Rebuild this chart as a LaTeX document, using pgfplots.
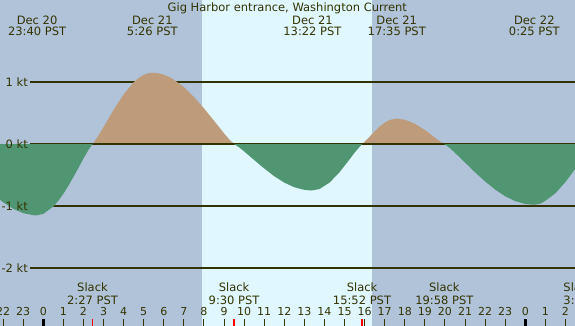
\documentclass[border=0pt]{standalone}
\usepackage{pgfplots}
\usepackage{pgfplotstable}
\pgfplotsset{compat=1.18}
\usepackage{fontspec}
\setmainfont{DejaVu Sans}
\definecolor{night}{RGB}{176,195,217}
\definecolor{day}{RGB}{224,247,255}
\definecolor{flood}{RGB}{190,155,122}
\definecolor{ebb}{RGB}{80,150,115}
\definecolor{ink}{RGB}{51,51,0}
\newcommand{\lab}{\fontsize{11.5}{13}\selectfont}
\newcommand{\tlab}{\fontsize{11}{13}\selectfont}

% ebb before 2:27
\pgfplotstableread{
x y
-2.3 0
-2.3 -0.861
-2.0 -0.940
-1.5 -1.044
-1.0 -1.115
-0.5 -1.148
-0.33 -1.150
0.0 -1.127
0.5 -1.008
0.75 -0.915
1.0 -0.802
1.25 -0.673
1.5 -0.532
1.75 -0.385
2.0 -0.235
2.25 -0.094
2.45 0
}\segA
% flood 2:27 - 9:30
\pgfplotstableread{
x y
2.45 0
2.5 0.018
2.75 0.137
3.0 0.272
3.5 0.550
4.0 0.800
4.5 0.996
4.75 1.066
5.0 1.116
5.25 1.144
5.43 1.150
5.7 1.143
6.0 1.118
6.25 1.085
6.5 1.039
7.0 0.918
7.5 0.760
8.0 0.575
8.5 0.375
9.0 0.172
9.25 0.078
9.5 0
}\segB
% ebb 9:30 - 15:52
\pgfplotstableread{
x y
9.5 0
9.75 -0.054
10.0 -0.119
10.5 -0.258
11.0 -0.394
11.5 -0.519
12.0 -0.622
12.5 -0.697
13.0 -0.740
13.37 -0.750
13.75 -0.726
14.25 -0.623
14.75 -0.455
15.25 -0.247
15.5 -0.139
15.87 0
}\segC
% flood 15:52 - 19:58
\pgfplotstableread{
x y
15.87 0
16.0 0.036
16.25 0.119
16.5 0.205
16.75 0.282
17.0 0.345
17.25 0.389
17.58 0.410
18.0 0.392
18.5 0.328
19.0 0.226
19.5 0.104
19.75 0.044
19.97 0
}\segD
% ebb after 19:58
\pgfplotstableread{
x y
19.97 0
20.25 -0.068
20.5 -0.142
21.0 -0.299
21.5 -0.457
22.0 -0.604
22.5 -0.735
23.0 -0.843
23.5 -0.921
24.0 -0.968
24.42 -0.980
24.75 -0.962
25.0 -0.915
25.5 -0.795
26.0 -0.612
26.5 -0.395
26.6 -0.350
26.6 0
}\segE

\begin{document}
\begin{tikzpicture}[x=1pt,y=1pt]
\path[use as bounding box] (0,0) rectangle (575,326);
\clip (0,0) rectangle (575,326);
\begin{axis}[
  at={(0,0)}, anchor=south west,
  width=575pt, height=326pt, scale only axis,
  xmin=-2.156, xmax=26.475, ymin=-2.935, ymax=2.323,
  axis background/.style={fill=night},
  axis line style={draw=none},
  ytick=\empty,
  xtick={-2,-1,0,1,2,3,4,5,6,7,8,9,10,11,12,13,14,15,16,17,18,19,20,21,22,23,24,25,26},
  xticklabels={22,23,0,1,2,3,4,5,6,7,8,9,10,11,12,13,14,15,16,17,18,19,20,21,22,23,0,1,2},
  xtick pos=bottom,
  tick align=inside,
  major tick length=7.3pt,
  xtick style={draw=ink, line width=1pt},
  xticklabel style={anchor=base, yshift=10.3pt, font=\tlab, text=ink, inner sep=0pt},
  extra x ticks={0,24},
  extra x tick labels={},
  extra x tick style={xtick style={draw=black, line width=3.3pt}},
  axis on top,
  clip=true,
]
% daylight band
\addplot[fill=day, draw=none] coordinates {(7.9,-3) (7.9,2.4) (16.36,2.4) (16.36,-3)};
% reference lines
\addplot[ink, line width=1.3pt] coordinates {(-0.663,1) (27,1)};
\addplot[ink, line width=1.3pt] coordinates {(-0.663,0) (27,0)};
\addplot[ink, line width=1.3pt] coordinates {(-0.663,-1) (27,-1)};
\addplot[ink, line width=1.3pt] coordinates {(-0.663,-2) (27,-2)};
% current curve
\addplot[fill=ebb, draw=none] table {\segA};
\addplot[fill=flood, draw=none] table {\segB};
\addplot[fill=ebb, draw=none] table {\segC};
\addplot[fill=flood, draw=none] table {\segD};
\addplot[fill=ebb, draw=none] table {\segE};
\addplot[ink, line width=1.3pt] coordinates {(2.45,0) (9.5,0)};
\addplot[ink, line width=1.3pt] coordinates {(15.87,0) (19.97,0)};
% slack ticks
\addplot[red, line width=1.3pt] coordinates {(2.45,-2.95) (2.45,-2.817)};
\addplot[red, line width=1.3pt] coordinates {(9.5,-2.95) (9.5,-2.817)};
\addplot[red, line width=1.3pt] coordinates {(15.87,-2.95) (15.87,-2.817)};
\addplot[red, line width=1.3pt] coordinates {(19.97,-2.95) (19.97,-2.817)};
% speed labels
\node[anchor=base east, text=ink, font=\lab, inner sep=0pt] at (-0.762,0.927) {1 kt};
\node[anchor=base east, text=ink, font=\lab, inner sep=0pt] at (-0.762,-0.073) {0 kt};
\node[anchor=base east, text=ink, font=\lab, inner sep=0pt] at (-0.762,-1.073) {-1 kt};
\node[anchor=base east, text=ink, font=\lab, inner sep=0pt] at (-0.762,-2.073) {-2 kt};
% title
\node[anchor=base, text=ink, font=\lab, inner sep=0pt] at (12.15,2.134) {Gig Harbor entrance, Washington Current};
% event labels
\node[anchor=base, text=ink, font=\lab, inner sep=0pt] at (-0.31,1.935) {Dec 20};
\node[anchor=base, text=ink, font=\lab, inner sep=0pt] at (-0.31,1.747) {23:40 PST};
\node[anchor=base, text=ink, font=\lab, inner sep=0pt] at (5.43,1.935) {Dec 21};
\node[anchor=base, text=ink, font=\lab, inner sep=0pt] at (5.43,1.747) {5:26 PST};
\node[anchor=base, text=ink, font=\lab, inner sep=0pt] at (13.40,1.935) {Dec 21};
\node[anchor=base, text=ink, font=\lab, inner sep=0pt] at (13.40,1.747) {13:22 PST};
\node[anchor=base, text=ink, font=\lab, inner sep=0pt] at (17.6,1.935) {Dec 21};
\node[anchor=base, text=ink, font=\lab, inner sep=0pt] at (17.6,1.747) {17:35 PST};
\node[anchor=base, text=ink, font=\lab, inner sep=0pt] at (24.45,1.935) {Dec 22};
\node[anchor=base, text=ink, font=\lab, inner sep=0pt] at (24.45,1.747) {0:25 PST};
% slack labels
\node[anchor=base, text=ink, font=\lab, inner sep=0pt] at (2.45,-2.382) {Slack};
\node[anchor=base, text=ink, font=\lab, inner sep=0pt] at (2.45,-2.581) {2:27 PST};
\node[anchor=base, text=ink, font=\lab, inner sep=0pt] at (9.5,-2.382) {Slack};
\node[anchor=base, text=ink, font=\lab, inner sep=0pt] at (9.5,-2.581) {9:30 PST};
\node[anchor=base, text=ink, font=\lab, inner sep=0pt] at (15.87,-2.382) {Slack};
\node[anchor=base, text=ink, font=\lab, inner sep=0pt] at (15.87,-2.581) {15:52 PST};
\node[anchor=base, text=ink, font=\lab, inner sep=0pt] at (19.97,-2.382) {Slack};
\node[anchor=base, text=ink, font=\lab, inner sep=0pt] at (19.97,-2.581) {19:58 PST};
\node[anchor=base west, text=ink, font=\lab, inner sep=0pt] at (25.89,-2.382) {Slack};
\node[anchor=base west, text=ink, font=\lab, inner sep=0pt] at (25.89,-2.581) {3:05 PST};
\end{axis}
\end{tikzpicture}
\end{document}
